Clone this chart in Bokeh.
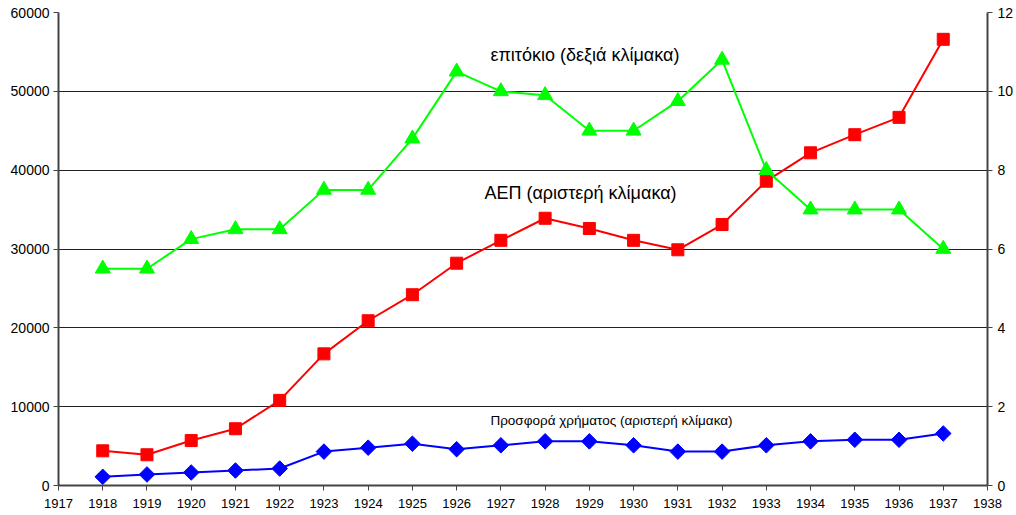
import math
from bokeh.plotting import figure
from bokeh.models import Range1d, LinearAxis, FixedTicker, Label
from bokeh.embed import file_html
from bokeh.resources import INLINE

years = list(range(1918, 1938))
gdp = [4400, 3900, 5700, 7200, 10800, 16700, 20900, 24200, 28200, 31100,
       33900, 32600, 31100, 29900, 33100, 38600, 42200, 44500, 46700, 56600]
interest = [5.5, 5.5, 6.25, 6.5, 6.5, 7.5, 7.5, 8.8, 10.5, 10.0,
            9.9, 9.0, 9.0, 9.75, 10.8, 8.0, 7.0, 7.0, 7.0, 6.0]
money = [1100, 1400, 1650, 1900, 2150, 4300, 4800, 5300, 4600, 5100,
         5600, 5600, 5100, 4300, 4300, 5100, 5600, 5800, 5800, 6600]

label_interest = "επιτόκιο (δεξιά κλίμακα)"
label_gdp = "ΑΕΠ (αριστερή κλίμακα)"
label_money = "Προσφορά χρήματος (αριστερή κλίμακα)"

FONT = "Liberation Sans"

p = figure(width=1016, height=513, output_backend="svg", toolbar_location=None,
           x_range=Range1d(1917, 1938), y_range=Range1d(0, 60000),
           min_border_left=58, min_border_right=28, min_border_top=12, min_border_bottom=28)
p.extra_y_ranges = {"right": Range1d(0, 12)}
p.outline_line_color = None
p.background_fill_color = "white"
p.border_fill_color = "white"

p.xgrid.grid_line_color = None
p.ygrid.grid_line_color = "#222222"
p.ygrid.grid_line_width = 1
p.ygrid.ticker = FixedTicker(ticks=list(range(0, 60001, 10000)))

def style_axis(ax, size):
    ax.axis_line_color = "#444444"
    ax.axis_line_width = 2
    ax.major_tick_line_color = "#444444"
    ax.major_tick_out = 5
    ax.major_tick_in = 0
    ax.minor_tick_line_color = None
    ax.major_label_text_font = FONT
    ax.major_label_text_font_size = size
    ax.major_label_text_color = "black"

p.xaxis.ticker = FixedTicker(ticks=list(range(1917, 1939)))
style_axis(p.xaxis, "13px")
p.xaxis.major_label_standoff = 8
p.yaxis.ticker = FixedTicker(ticks=list(range(0, 60001, 10000)))
style_axis(p.yaxis, "14px")
p.yaxis.major_label_standoff = 4

ax_r = LinearAxis(y_range_name="right", ticker=FixedTicker(ticks=list(range(0, 13, 2))))
style_axis(ax_r, "14px")
ax_r.major_label_standoff = 5
p.add_layout(ax_r, "right")

# GDP
p.line(years, gdp, line_color="#FF0000", line_width=2)
p.scatter(years, gdp, marker="square", size=12, fill_color="#FF0000", line_color="#FF0000")
# Interest
p.line(years, interest, line_color="#00FF00", line_width=2, y_range_name="right")
p.scatter(years, interest, marker="triangle", size=15, fill_color="#00FF00", line_color="#00FF00",
          y_range_name="right")
# Money
p.line(years, money, line_color="#0000FF", line_width=2)
p.scatter(years, money, marker="square", size=11, angle=math.pi / 4,
          fill_color="#0000FF", line_color="#0000FF")

p.add_layout(Label(x=1928.9, y=54600, text=label_interest, text_font=FONT, text_font_size="18px",
                   text_align="center", text_baseline="middle", text_color="black"))
p.add_layout(Label(x=1928.8, y=37100, text=label_gdp, text_font=FONT, text_font_size="18px",
                   text_align="center", text_baseline="middle", text_color="black"))
p.add_layout(Label(x=1929.5, y=8250, text=label_money, text_font=FONT, text_font_size="13.5px",
                   text_align="center", text_baseline="middle", text_color="black"))

open("out.html", "w").write(file_html(p, INLINE))
